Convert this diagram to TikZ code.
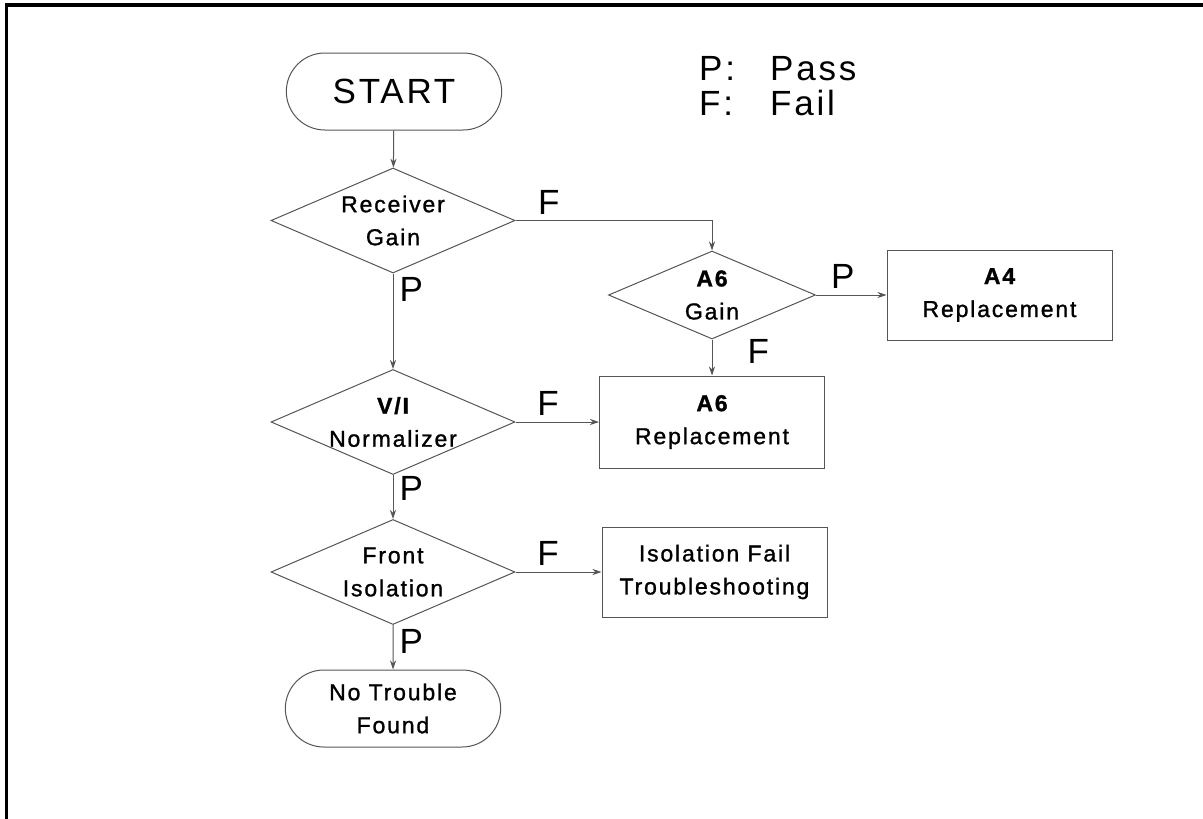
\documentclass[tikz,border=0pt]{standalone}
\usepackage{fontspec}
\setmainfont{Liberation Sans}[LetterSpace=8]
\newfontfamily\fcnodefont{Liberation Sans}[LetterSpace=8, FakeBold=1.2]
\usetikzlibrary{arrows.meta,shapes.geometric,shapes.misc}
\definecolor{fcline}{RGB}{85,85,85}
\newcommand\fcsmall{\fcnodefont\fontsize{23}{33}\selectfont}
\newcommand\fcbig{\fontsize{35}{38}\selectfont}
\tikzset{
  term/.style={rounded rectangle, draw=fcline, line width=1pt, align=center,
               minimum width=222pt, minimum height=77pt, font=\fcsmall},
  test/.style={diamond, draw=fcline, line width=1pt, align=center, aspect=2.33,
               inner sep=0pt, minimum width=244pt, minimum height=105pt, font=\fcsmall},
  box/.style={rectangle, draw=fcline, line width=1pt, align=center,
              minimum width=225pt, minimum height=91pt, font=\fcsmall},
  arr/.style={-{Stealth[length=9pt,width=6pt]}, line width=1pt, draw=fcline},
  lab/.style={font=\fcbig, inner sep=6pt},
  key/.style={font=\fcbig, inner sep=0pt, anchor=base west}
}

\begin{document}
\begin{tikzpicture}[x=1pt, y=-1pt]
  \useasboundingbox (0,0) rectangle (1203,819);
  \draw[line width=3.5pt] (6.5,819) -- (6.5,5) -- (1203,5);

  \node[term, font=\fcbig] (start) at (394,91.5) {START};
  \node[key] (kp)  at (699,80)  {P:};
  \node[key] (kpt) at (770,80)  {Pass};
  \node[key] (kf)  at (699,115) {F:};
  \node[key] (kft) at (770,115) {Fail};

  \node[test] (rg)  at (393,220.5) {Receiver\\Gain};
  \node[test, minimum width=207pt, minimum height=88pt] (a6g) at (712,295) {\bfseries A6\\Gain};
  \node[box, minimum height=90pt] (a4) at (999.5,295) {\bfseries A4\\Replacement};
  \node[test] (vi)  at (393,422) {\bfseries V/I\\Normalizer};
  \node[box, minimum height=92pt] (a6r) at (712,422) {\bfseries A6\\Replacement};
  \node[test] (fi)  at (393,572) {Front\\Isolation};
  \node[box, minimum height=90pt] (ifb) at (714.5,572) {Isolation Fail\\Troubleshooting};
  \node[term] (ntf) at (393,708.5) {No Trouble\\Found};

  \draw[arr] (start) -- (rg);
  \draw[arr] (rg.east) -| node[lab, pos=0.085, above] {F} (a6g.north);
  \draw[arr] (rg) -- node[lab, pos=0.17, right] {P} (vi);
  \draw[arr] (a6g) -- node[lab, pos=0.38, above] {P} (a4);
  \draw[arr] (a6g) -- node[lab, pos=0.32, right, xshift=29pt] {F} (a6r);
  \draw[arr] (vi) -- node[lab, pos=0.39, above] {F} (a6r);
  \draw[arr] (vi) -- node[lab, pos=0.3, right] {P} (fi);
  \draw[arr] (fi) -- node[lab, pos=0.38, above] {F} (ifb);
  \draw[arr] (fi) -- node[lab, pos=0.38, right] {P} (ntf);
\end{tikzpicture}
\end{document}
